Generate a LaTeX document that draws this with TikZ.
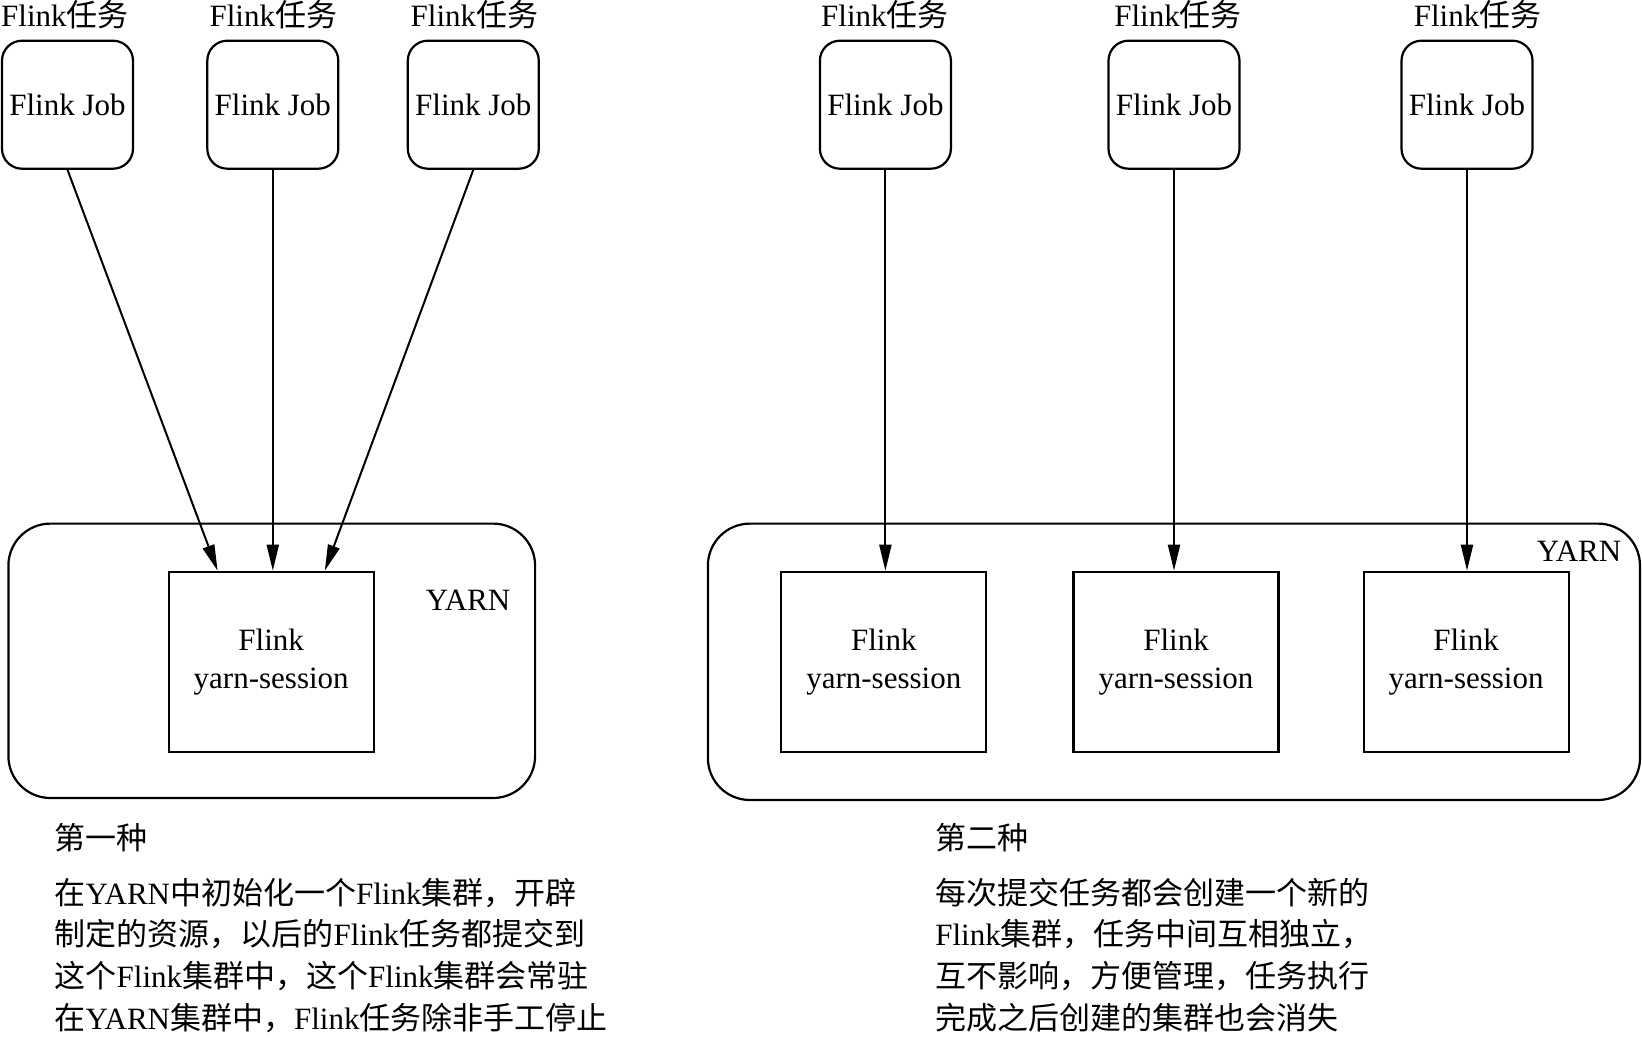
\documentclass[tikz,border=0pt]{standalone}
\usepackage{fontspec}
\setmainfont{Liberation Serif}
\newfontfamily\cjk{Noto Sans CJK SC}
\usetikzlibrary{arrows.meta}
\newcommand\zh[1]{{\cjk #1}}
\begin{document}
\begin{tikzpicture}[x=1pt,y=-1pt,
  every node/.style={font=\fontsize{31}{37.6}\selectfont, inner sep=0pt},
  jobbox/.style={draw, line width=2.2pt, rounded corners=20pt, minimum width=131pt, minimum height=128pt},
  sessbox/.style={draw, line width=2.2pt, minimum width=205pt, minimum height=180pt, align=center},
  yarnbox/.style={draw, line width=2.2pt, rounded corners=42pt},
  arr/.style={line width=2pt, -{Triangle[length=26pt,width=12pt]}},
  lbl/.style={anchor=base},
  para/.style={anchor=base west}]
\useasboundingbox (0,0) rectangle (1642,1038);

% YARN containers
\node[yarnbox, minimum width=526.7pt, minimum height=274.4pt] (yl) at (271.75,660.8) {};
\node[yarnbox, minimum width=932.1pt, minimum height=276.4pt] (yr) at (1173.95,661.8) {};
\node (yll) at (468,600) {YARN};
\node (yrl) at (1579,550.8) {YARN};

% job labels
\node[lbl] (t1) at (64.9,27) {Flink\zh{任务}};
\node[lbl] (t2) at (273.3,27) {Flink\zh{任务}};
\node[lbl] (t3) at (474.4,27) {Flink\zh{任务}};
\node[lbl] (t4) at (884.9,27) {Flink\zh{任务}};
\node[lbl] (t5) at (1178.1,27) {Flink\zh{任务}};
\node[lbl] (t6) at (1477.6,27) {Flink\zh{任务}};

% jobs
\node[jobbox] (j1) at (67.5,104.7) {Flink Job};
\node[jobbox] (j2) at (272.8,104.7) {Flink Job};
\node[jobbox] (j3) at (473.3,104.7) {Flink Job};
\node[jobbox] (j4) at (885.4,104.7) {Flink Job};
\node[jobbox] (j5) at (1174,104.7) {Flink Job};
\node[jobbox] (j6) at (1467,104.7) {Flink Job};

% sessions
\node[sessbox] (s1) at (271.2,661.8) {Flink\\yarn-session};
\node[sessbox] (s4) at (883.8,661.8) {Flink\\yarn-session};
\node[sessbox] (s5) at (1176,661.8) {Flink\\yarn-session};
\node[sessbox] (s6) at (1466.1,661.8) {Flink\\yarn-session};

% arrows
\draw[arr] (j1.south) -- ([xshift=50pt]s1.north west);
\draw[arr] (j2.south) -- (j2.south |- s1.north);
\draw[arr] (j3.south) -- ([xshift=-50pt]s1.north east);
\draw[arr] (j4.south) -- (j4.south |- s4.north);
\draw[arr] (j5.south) -- (j5.south |- s5.north);
\draw[arr] (j6.south) -- (j6.south |- s6.north);

% captions
\node[para] (c1) at (54.5,849) {\zh{第一种}};
\node[para] (p1a) at (54.5,904) {\zh{在}YARN\zh{中初始化一个}Flink\zh{集群，开辟}};
\node[para] (p1b) at (54.5,945) {\zh{制定的资源，以后的}Flink\zh{任务都提交到}};
\node[para] (p1c) at (54.5,987) {\zh{这个}Flink\zh{集群中，这个}Flink\zh{集群会常驻}};
\node[para] (p1d) at (54.5,1029) {\zh{在}YARN\zh{集群中，}Flink\zh{任务除非手工停止}};

\node[para] (c2) at (935.1,849) {\zh{第二种}};
\node[para] (p2a) at (935.1,904) {\zh{每次提交任务都会创建一个新的}};
\node[para] (p2b) at (935.1,945) {Flink\zh{集群，任务中间互相独立，}};
\node[para] (p2c) at (935.1,987) {\zh{互不影响，方便管理，任务执行}};
\node[para] (p2d) at (935.1,1029) {\zh{完成之后创建的集群也会消失}};
\end{tikzpicture}
\end{document}
